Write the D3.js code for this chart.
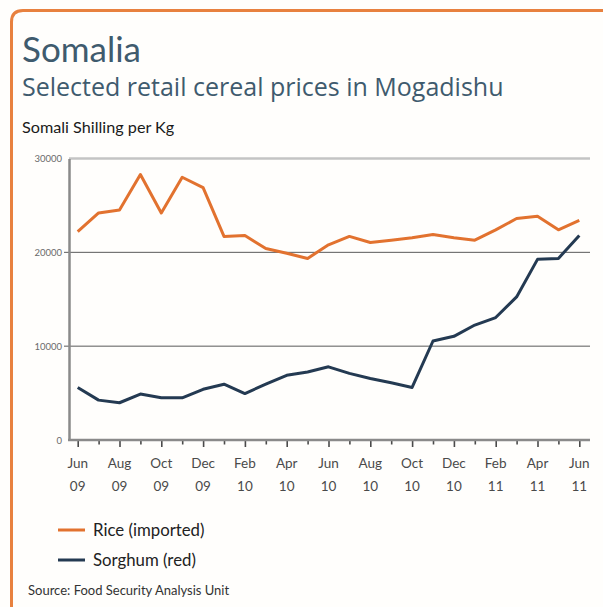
<!DOCTYPE html>
<html>
<head>
<meta charset="utf-8">
<script src="https://cdn.jsdelivr.net/npm/d3@7/dist/d3.min.js"></script>
<style>
  html, body { margin: 0; padding: 0; background: #ffffff; }
  svg { display: block; }
</style>
</head>
<body>
<svg id="chart" width="603" height="607"></svg>
<script>
// Monthly retail prices in Mogadishu, Somali Shilling per Kg
const months = ["Jun 09","Jul 09","Aug 09","Sep 09","Oct 09","Nov 09","Dec 09",
  "Jan 10","Feb 10","Mar 10","Apr 10","May 10","Jun 10","Jul 10","Aug 10","Sep 10",
  "Oct 10","Nov 10","Dec 10","Jan 11","Feb 11","Mar 11","Apr 11","May 11","Jun 11"];
const riceValues = [22200, 24200, 24500, 28300, 24200, 28000, 26900,
  21700, 21800, 20400, 19900, 19350, 20800, 21700, 21050, 21300,
  21550, 21900, 21550, 21300, 22400, 23600, 23850, 22400, 23400];
const sorghumValues = [5600, 4250, 3970, 4900, 4500, 4500, 5400,
  5950, 4950, 5950, 6900, 7250, 7800, 7100, 6550, 6100,
  5600, 10550, 11050, 12250, 13050, 15250, 19250, 19350, 21800];
const yTicks = [0, 10000, 20000, 30000];
const xTickLabels = [["Jun","09"],["Aug","09"],["Oct","09"],["Dec","09"],["Feb","10"],
  ["Apr","10"],["Jun","10"],["Aug","10"],["Oct","10"],["Dec","10"],["Feb","11"],
  ["Apr","11"],["Jun","11"]];
const seriesNames = ["Rice (imported)", "Sorghum (red)"];
const seriesColors = ["#e2722f", "#243a52"];

const svg = d3.select("#chart");
const W = 603, H = 607;
const font = "Lato, 'Open Sans', sans-serif";

// card with orange frame (top and left edges, rounded corner)
svg.append("rect").attr("width", W).attr("height", H).attr("fill", "#fffefc");
svg.append("path")
  .attr("d", "M11.5,607 L11.5,22 Q11.5,10.5 23,10.5 L603,10.5")
  .attr("fill", "none").attr("stroke", "#e8813f").attr("stroke-width", 3);

// headings
svg.append("text").attr("x", 22).attr("y", 62).text("Somalia")
  .attr("font-family", font).attr("font-size", 35).attr("fill", "#3f5b6e");
svg.append("text").attr("x", 22).attr("y", 96).text("Selected retail cereal prices in Mogadishu")
  .attr("font-family", "'Open Sans', sans-serif").attr("font-size", 25).attr("fill", "#3f5b6e");
svg.append("text").attr("x", 22).attr("y", 133).text("Somali Shilling per Kg")
  .attr("font-family", font).attr("font-size", 16.2).attr("fill", "#1a1a1a");

// scales
const x = d3.scaleLinear().domain([0, months.length - 1]).range([77.7, 579.3]);
const y = d3.scaleLinear().domain([0, 30000]).range([440, 158.5]);
const axisLeftX = 69, plotRight = 590;

// horizontal reference lines
svg.append("line").attr("x1", axisLeftX).attr("x2", plotRight)
  .attr("y1", y(30000)).attr("y2", y(30000))
  .attr("stroke", "#c4c4c4").attr("stroke-width", 2.5);
[10000, 20000].forEach(v => {
  svg.append("line").attr("x1", axisLeftX - 5).attr("x2", plotRight)
    .attr("y1", y(v)).attr("y2", y(v))
    .attr("stroke", "#5a5a5a").attr("stroke-width", 1);
});

// y axis
const yAxis = d3.axisLeft(y).tickValues(yTicks).tickSize(0).tickPadding(7)
  .tickFormat(d3.format("d"));
const gy = svg.append("g").attr("transform", `translate(${axisLeftX},0)`).call(yAxis);
gy.select(".domain").attr("stroke", "#8a8a8a").attr("stroke-width", 2.5);
gy.selectAll("text").attr("font-family", font).attr("font-size", 9.5).attr("fill", "#6a6a6a");

// x axis: monthly ticks, longer on labelled months
const xAxis = d3.axisBottom(x).tickValues(d3.range(months.length)).tickSize(0).tickFormat("");
const gx = svg.append("g").attr("transform", `translate(0,${y(0)})`).call(xAxis);
gx.select(".domain").remove();
svg.append("line").attr("x1", axisLeftX - 1).attr("x2", plotRight)
  .attr("y1", y(0)).attr("y2", y(0)).attr("stroke", "#8a8a8a").attr("stroke-width", 2.5);
gx.selectAll(".tick line")
  .attr("y2", (d, i) => i % 2 === 0 ? 7 : 4.5)
  .attr("stroke", "#4a4a4a").attr("stroke-width", 1.6);

const labels = svg.append("g");
xTickLabels.forEach((lab, i) => {
  const t = labels.append("text").attr("x", x(i * 2)).attr("y", 468)
    .attr("text-anchor", "middle").attr("font-family", font)
    .attr("font-size", 13.5).attr("fill", "#4a4a4a");
  t.append("tspan").attr("x", x(i * 2)).text(lab[0]);
  t.append("tspan").attr("x", x(i * 2)).attr("dy", 23).text(lab[1]);
});

// series lines
const line = d3.line().x((d, i) => x(i)).y(d => y(d));
[riceValues, sorghumValues].forEach((vals, k) => {
  svg.append("path").datum(vals).attr("d", line)
    .attr("fill", "none").attr("stroke", seriesColors[k])
    .attr("stroke-width", 3).attr("stroke-linejoin", "round");
});

// legend
seriesNames.forEach((name, k) => {
  const ly = 530 + k * 30;
  svg.append("line").attr("x1", 58).attr("x2", 85).attr("y1", ly).attr("y2", ly)
    .attr("stroke", seriesColors[k]).attr("stroke-width", 3);
  svg.append("text").attr("x", 93).attr("y", ly + 6).text(name)
    .attr("font-family", font).attr("font-size", 16.8).attr("fill", "#222");
});

// source note
svg.append("text").attr("x", 28).attr("y", 595).text("Source: Food Security Analysis Unit")
  .attr("font-family", font).attr("font-size", 13).attr("fill", "#333");
</script>
</body>
</html>
